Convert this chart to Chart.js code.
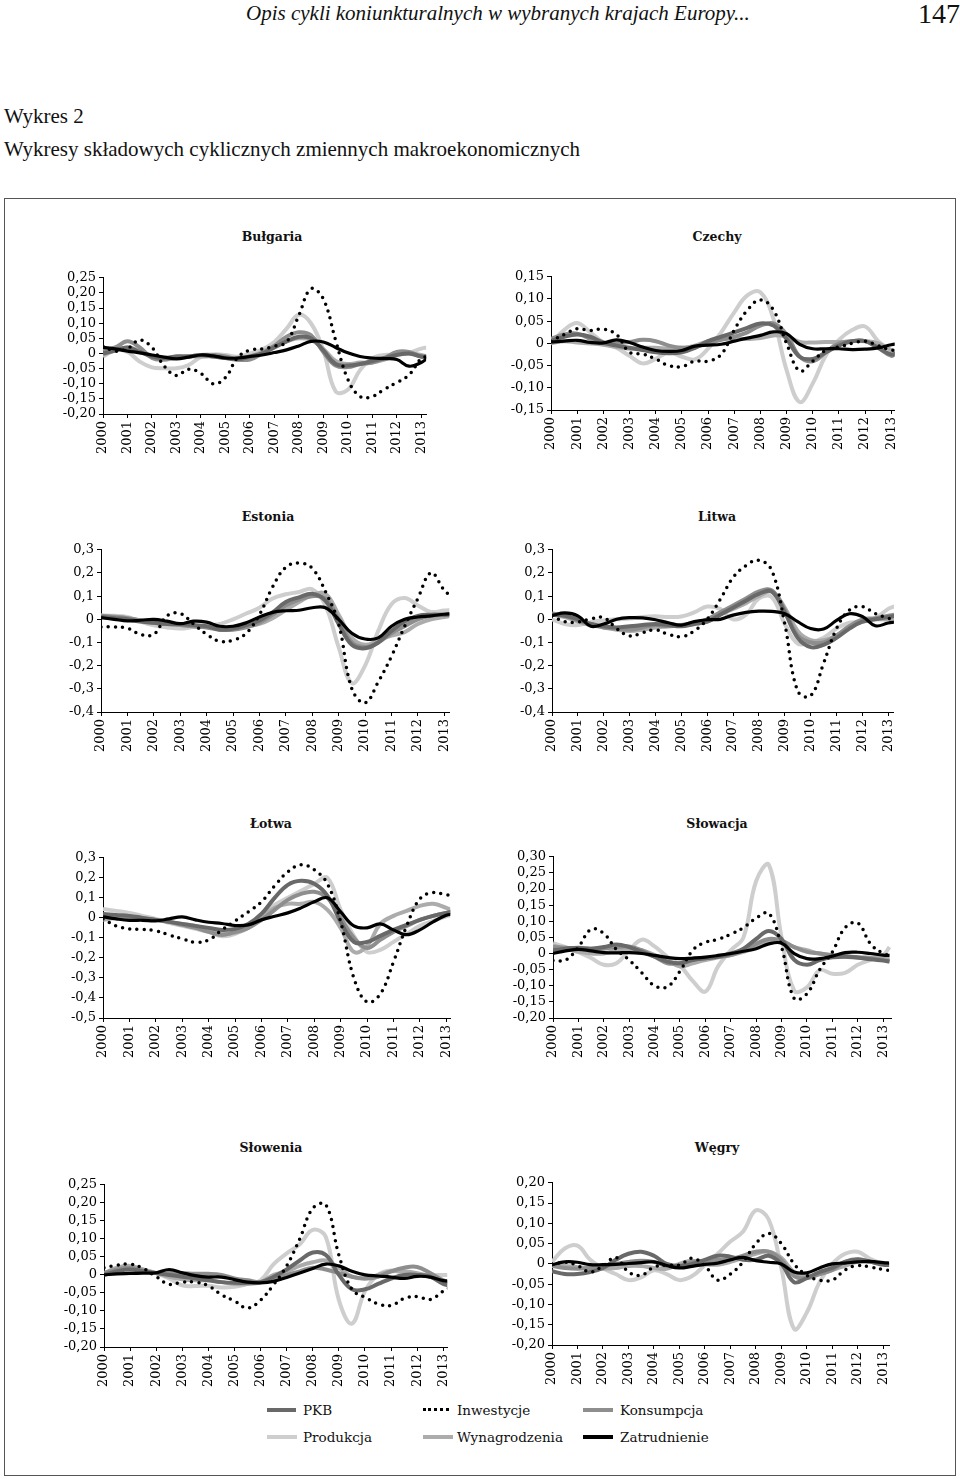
<!DOCTYPE html>
<html>
<head>
<meta charset="utf-8">
<script src="https://cdn.jsdelivr.net/npm/chart.js@4.4.1/dist/chart.umd.min.js"></script>
<style>
  body{margin:0;background:#fff;width:960px;height:1479px;position:relative;overflow:hidden;font-family:"Liberation Serif",serif;color:#111}
  .abs{position:absolute;white-space:nowrap}
  .ttl{font-family:"DejaVu Serif",serif;font-weight:bold;font-size:12.5px;transform:translate(-50%,-50%)}
  .box{position:absolute;left:4px;top:198px;width:950px;height:1276px;border:1px solid #555}
  .leg{font-family:"DejaVu Serif",serif;font-size:13.5px;transform:translateY(-50%)}
  .sw{position:absolute;height:0;border-top-style:solid;border-top-width:4px}
</style>
</head>
<body>
<div class="abs" style="left:246px;top:1px;font-size:21px;font-style:italic">Opis cykli koniunkturalnych w wybranych krajach Europy...</div>
<div class="abs" style="left:918px;top:-2px;font-size:28px">147</div>
<div class="abs" style="left:4px;top:104px;font-size:21px">Wykres 2</div>
<div class="abs" style="left:4px;top:137px;font-size:21px">Wykresy składowych cyklicznych zmiennych makroekonomicznych</div>
<div class="box"></div>
<div id="charts"></div>
<div id="legend"></div>
<script>
// === DANE ===
const periods = [2000, 2000.5, 2001, 2001.5, 2002, 2002.5, 2003, 2003.5, 2004, 2004.5, 2005, 2005.5, 2006, 2006.5,
                 2007, 2007.5, 2008, 2008.5, 2009, 2009.5, 2010, 2010.5, 2011, 2011.5, 2012, 2012.5, 2013, 2013.25];
const yearTicks = [2000, 2001, 2002, 2003, 2004, 2005, 2006, 2007, 2008, 2009, 2010, 2011, 2012, 2013];
const seriesNames = ['PKB', 'Inwestycje', 'Konsumpcja', 'Produkcja', 'Wynagrodzenia', 'Zatrudnienie'];
const countries = ['Bułgaria', 'Czechy', 'Estonia', 'Litwa', 'Łotwa', 'Słowacja', 'Słowenia', 'Węgry'];

// Bułgaria
const bgPkb  = [0.000, 0.010, 0.020, 0.005, -0.010, -0.015, -0.010, -0.010, -0.005, -0.010, -0.015, -0.020, -0.010, 0.000, 0.020, 0.040, 0.055, 0.050, 0.010, -0.035, -0.040, -0.035, -0.025, -0.015, -0.005, 0.000, -0.010, -0.010];
const bgInw  = [0.024, 0.008, 0.016, 0.044, 0.020, -0.042, -0.073, -0.052, -0.066, -0.100, -0.080, -0.013, 0.011, 0.015, 0.024, 0.038, 0.126, 0.214, 0.180, 0.044, -0.085, -0.142, -0.142, -0.118, -0.096, -0.071, -0.016, -0.010];
const bgKons = [0.010, 0.020, 0.040, 0.020, -0.015, -0.020, -0.010, -0.010, -0.005, -0.005, -0.010, -0.020, -0.020, 0.000, 0.025, 0.055, 0.070, 0.060, 0.005, -0.040, -0.045, -0.035, -0.030, -0.015, 0.005, 0.005, -0.010, -0.012];
const bgProd = [-0.010, 0.011, 0.005, -0.027, -0.046, -0.049, -0.049, -0.038, -0.011, -0.003, -0.005, -0.011, 0.000, 0.013, 0.038, 0.082, 0.128, 0.099, 0.011, -0.125, -0.120, -0.055, -0.016, -0.005, -0.005, 0.002, 0.016, 0.020];
const bgWyn  = [-0.005, 0.010, 0.020, 0.010, -0.010, -0.020, -0.015, -0.010, -0.010, -0.010, -0.015, -0.015, -0.010, 0.005, 0.025, 0.040, 0.050, 0.045, 0.015, -0.025, -0.035, -0.030, -0.030, -0.020, -0.005, 0.000, -0.005, -0.010];
const bgZatr = [0.020, 0.015, 0.008, 0.002, -0.005, -0.012, -0.018, -0.012, -0.005, -0.008, -0.015, -0.015, -0.010, -0.005, 0.003, 0.012, 0.025, 0.040, 0.038, 0.020, 0.002, -0.010, -0.015, -0.017, -0.020, -0.042, -0.030, -0.015];
// Czechy
const czPkb  = [0.005, 0.015, 0.020, 0.015, 0.002, -0.005, -0.010, -0.015, -0.020, -0.022, -0.020, -0.010, 0.005, 0.015, 0.025, 0.035, 0.045, 0.040, 0.010, -0.030, -0.035, -0.020, -0.005, 0.005, 0.005, -0.010, -0.025, -0.020];
const czInw  = [0.005, 0.020, 0.033, 0.029, 0.032, 0.020, -0.020, -0.024, -0.035, -0.050, -0.052, -0.040, -0.040, -0.025, 0.030, 0.075, 0.098, 0.075, 0.000, -0.062, -0.040, -0.015, -0.008, 0.000, 0.005, -0.005, -0.015, -0.015];
const czKons = [0.010, 0.020, 0.022, 0.010, 0.000, 0.000, 0.003, 0.008, 0.005, -0.005, -0.010, -0.008, 0.000, 0.008, 0.015, 0.025, 0.040, 0.045, 0.020, -0.030, -0.040, -0.020, 0.000, 0.005, 0.005, -0.010, -0.028, -0.020];
const czProd = [0.000, 0.030, 0.046, 0.025, 0.002, -0.010, -0.028, -0.045, -0.035, -0.020, -0.030, -0.036, -0.012, 0.025, 0.070, 0.108, 0.115, 0.055, -0.060, -0.132, -0.090, -0.027, 0.008, 0.030, 0.038, 0.005, -0.016, -0.018];
const czWyn  = [0.000, 0.005, 0.002, 0.000, -0.003, -0.008, -0.012, -0.010, -0.010, -0.012, -0.010, -0.005, 0.005, 0.010, 0.010, 0.010, 0.012, 0.018, 0.015, 0.003, 0.002, 0.003, 0.003, 0.005, 0.005, 0.000, -0.015, -0.018];
const czZatr = [0.003, 0.005, 0.007, 0.002, 0.001, 0.008, 0.002, -0.008, -0.016, -0.018, -0.016, -0.006, -0.004, -0.002, 0.005, 0.012, 0.018, 0.026, 0.022, -0.002, -0.012, -0.012, -0.012, -0.014, -0.013, -0.010, -0.003, -0.001];
// Estonia
const eePkb  = [0.010, 0.005, 0.000, -0.010, -0.015, -0.020, -0.020, -0.025, -0.030, -0.045, -0.040, -0.025, -0.005, 0.030, 0.075, 0.095, 0.110, 0.080, -0.020, -0.110, -0.125, -0.100, -0.050, -0.010, 0.015, 0.020, 0.020, 0.022];
const eeInw  = [-0.033, -0.033, -0.038, -0.065, -0.065, 0.015, 0.025, -0.020, -0.065, -0.095, -0.090, -0.060, 0.020, 0.140, 0.225, 0.243, 0.220, 0.120, -0.020, -0.300, -0.360, -0.270, -0.160, -0.030, 0.090, 0.200, 0.125, 0.100];
const eeKons = [0.015, 0.010, 0.005, -0.005, -0.015, -0.020, -0.025, -0.030, -0.035, -0.045, -0.045, -0.035, -0.015, 0.020, 0.060, 0.085, 0.100, 0.090, 0.000, -0.100, -0.120, -0.100, -0.060, -0.030, 0.000, 0.015, 0.020, 0.020];
const eeProd = [0.017, 0.015, 0.010, -0.010, -0.026, -0.035, -0.040, -0.033, -0.027, -0.020, 0.000, 0.025, 0.050, 0.090, 0.108, 0.118, 0.130, 0.060, -0.120, -0.275, -0.200, -0.050, 0.065, 0.092, 0.060, 0.032, 0.038, 0.040];
const eeWyn  = [0.015, 0.012, 0.005, -0.005, -0.012, -0.020, -0.025, -0.030, -0.033, -0.040, -0.035, -0.030, -0.020, 0.005, 0.040, 0.075, 0.105, 0.110, 0.020, -0.080, -0.110, -0.090, -0.070, -0.055, -0.020, 0.000, 0.010, 0.015];
const eeZatr = [0.007, 0.000, -0.007, -0.004, 0.000, -0.008, -0.019, -0.008, -0.012, -0.030, -0.030, -0.015, 0.010, 0.030, 0.037, 0.039, 0.050, 0.050, 0.000, -0.060, -0.085, -0.080, -0.030, 0.000, 0.010, 0.015, 0.022, 0.024];
// Litwa
const ltPkb  = [0.020, 0.015, 0.000, -0.020, -0.030, -0.035, -0.030, -0.025, -0.020, -0.025, -0.030, -0.020, -0.010, 0.020, 0.050, 0.080, 0.110, 0.120, 0.030, -0.080, -0.120, -0.110, -0.080, -0.040, -0.010, 0.000, 0.010, 0.015];
const ltInw  = [0.015, -0.010, -0.012, 0.002, 0.007, -0.040, -0.072, -0.058, -0.045, -0.065, -0.075, -0.050, 0.000, 0.085, 0.180, 0.232, 0.255, 0.210, -0.020, -0.310, -0.330, -0.190, -0.040, 0.040, 0.055, 0.025, 0.005, 0.000];
const ltKons = [0.025, 0.015, -0.005, -0.020, -0.035, -0.040, -0.045, -0.035, -0.025, -0.030, -0.025, -0.015, 0.000, 0.030, 0.060, 0.090, 0.120, 0.125, 0.040, -0.070, -0.100, -0.100, -0.070, -0.030, 0.000, 0.005, 0.015, 0.020];
const ltProd = [0.000, -0.020, -0.025, -0.012, -0.005, 0.000, 0.003, 0.010, 0.013, 0.010, 0.012, 0.030, 0.055, 0.045, 0.000, 0.020, 0.090, 0.095, -0.020, -0.105, -0.100, -0.080, -0.040, -0.015, -0.012, 0.005, 0.045, 0.056];
const ltWyn  = [0.020, 0.010, -0.010, -0.025, -0.035, -0.045, -0.050, -0.045, -0.035, -0.030, -0.025, -0.020, -0.010, 0.020, 0.045, 0.070, 0.100, 0.120, 0.050, -0.050, -0.090, -0.090, -0.070, -0.030, -0.010, 0.000, 0.000, 0.005];
const ltZatr = [0.017, 0.028, 0.015, -0.030, -0.020, 0.000, 0.007, 0.006, -0.002, -0.015, -0.025, -0.010, -0.002, 0.000, 0.018, 0.030, 0.035, 0.034, 0.024, -0.010, -0.040, -0.042, -0.005, 0.024, 0.012, -0.028, -0.016, -0.012];
// Łotwa
const lvPkb  = [0.020, 0.015, 0.010, 0.000, -0.010, -0.020, -0.030, -0.040, -0.050, -0.060, -0.055, -0.030, 0.020, 0.100, 0.165, 0.185, 0.170, 0.110, -0.020, -0.120, -0.120, -0.090, -0.060, -0.035, -0.010, 0.010, 0.025, 0.030];
const lvInw  = [-0.005, -0.040, -0.055, -0.058, -0.065, -0.085, -0.105, -0.122, -0.110, -0.060, -0.015, 0.030, 0.080, 0.160, 0.230, 0.265, 0.240, 0.170, -0.020, -0.300, -0.420, -0.380, -0.220, -0.040, 0.095, 0.126, 0.115, 0.110];
const lvKons = [0.010, 0.005, 0.000, -0.005, -0.010, -0.020, -0.035, -0.050, -0.070, -0.085, -0.070, -0.050, -0.010, 0.040, 0.090, 0.120, 0.130, 0.100, 0.000, -0.100, -0.150, -0.110, -0.070, -0.040, -0.010, 0.010, 0.025, 0.030];
const lvProd = [0.045, 0.035, 0.025, 0.010, -0.005, -0.025, -0.040, -0.055, -0.070, -0.092, -0.080, -0.040, 0.020, 0.065, 0.100, 0.135, 0.170, 0.200, 0.040, -0.090, -0.170, -0.160, -0.120, -0.080, -0.040, -0.015, 0.008, 0.015];
const lvWyn  = [-0.010, 0.000, 0.005, 0.000, -0.010, -0.020, -0.030, -0.040, -0.060, -0.080, -0.075, -0.050, 0.000, 0.050, 0.070, 0.070, 0.080, 0.040, -0.050, -0.170, -0.140, -0.030, 0.010, 0.035, 0.060, 0.070, 0.050, 0.035];
const lvZatr = [0.005, -0.005, -0.012, -0.012, -0.015, -0.005, 0.005, -0.010, -0.022, -0.028, -0.038, -0.035, -0.010, 0.008, 0.025, 0.050, 0.080, 0.100, 0.030, -0.040, -0.050, -0.030, -0.060, -0.084, -0.060, -0.020, 0.013, 0.018];
// Słowacja
const skPkb  = [0.010, 0.015, 0.018, 0.015, 0.020, 0.028, 0.020, 0.005, -0.010, -0.025, -0.030, -0.020, -0.015, -0.010, 0.000, 0.015, 0.045, 0.070, 0.045, -0.020, -0.035, -0.020, -0.012, -0.010, -0.012, -0.018, -0.022, -0.025];
const skInw  = [-0.022, -0.020, 0.020, 0.075, 0.062, 0.012, -0.020, -0.060, -0.100, -0.103, -0.055, 0.010, 0.035, 0.044, 0.060, 0.080, 0.110, 0.125, 0.020, -0.140, -0.125, -0.050, 0.005, 0.080, 0.095, 0.030, 0.000, -0.005];
const skKons = [0.020, 0.018, 0.015, 0.015, 0.015, 0.020, 0.022, 0.010, -0.010, -0.030, -0.030, -0.020, -0.015, -0.010, -0.005, 0.010, 0.030, 0.045, 0.040, 0.020, 0.005, 0.000, -0.005, -0.008, -0.012, -0.015, -0.020, -0.022];
const skProd = [0.032, 0.020, 0.004, -0.014, -0.035, -0.030, 0.010, 0.043, 0.022, -0.010, -0.037, -0.085, -0.118, -0.040, 0.010, 0.050, 0.225, 0.275, 0.050, -0.115, -0.105, -0.052, -0.063, -0.060, -0.035, -0.020, -0.005, 0.020];
const skWyn  = [0.025, 0.015, 0.005, 0.000, 0.000, 0.010, 0.012, 0.010, -0.005, -0.020, -0.040, -0.030, -0.020, -0.012, -0.005, 0.005, 0.020, 0.040, 0.035, 0.020, 0.010, 0.000, -0.005, -0.010, -0.012, -0.012, -0.010, -0.010];
const skZatr = [0.000, 0.008, 0.013, 0.008, 0.003, 0.002, 0.003, 0.000, -0.006, -0.012, -0.016, -0.014, -0.011, -0.006, 0.000, 0.007, 0.015, 0.030, 0.032, 0.000, -0.016, -0.016, -0.008, 0.003, 0.004, 0.000, -0.005, -0.006];
// Słowenia
const siPkb  = [0.000, 0.010, 0.015, 0.010, 0.005, 0.000, -0.005, -0.010, -0.015, -0.020, -0.022, -0.022, -0.020, -0.005, 0.015, 0.040, 0.062, 0.055, 0.000, -0.040, -0.040, -0.025, -0.010, 0.000, 0.000, -0.005, -0.025, -0.030];
const siInw  = [0.020, 0.027, 0.030, 0.018, -0.005, -0.026, -0.020, -0.020, -0.030, -0.055, -0.072, -0.092, -0.070, -0.027, 0.025, 0.100, 0.185, 0.195, 0.055, -0.040, -0.062, -0.080, -0.085, -0.065, -0.060, -0.068, -0.045, -0.035];
const siKons = [0.005, 0.015, 0.020, 0.012, 0.005, 0.005, 0.005, 0.003, 0.003, 0.000, -0.010, -0.015, -0.020, -0.010, 0.000, 0.010, 0.020, 0.015, 0.005, -0.005, -0.010, -0.005, 0.010, 0.020, 0.022, 0.005, -0.015, -0.020];
const siProd = [0.003, 0.015, 0.022, 0.015, 0.005, -0.010, -0.029, -0.031, -0.030, -0.035, -0.033, -0.025, -0.015, 0.030, 0.060, 0.085, 0.125, 0.105, -0.070, -0.135, -0.045, 0.000, 0.012, 0.005, 0.002, -0.001, 0.000, 0.000];
const siWyn  = [0.005, 0.020, 0.025, 0.015, 0.005, -0.005, -0.012, -0.015, -0.015, -0.020, -0.025, -0.025, -0.020, 0.000, 0.010, 0.025, 0.035, 0.040, 0.020, -0.005, -0.010, 0.000, 0.010, 0.010, 0.005, -0.005, -0.020, -0.025];
const siZatr = [0.000, 0.003, 0.004, 0.005, 0.006, 0.015, 0.006, -0.002, -0.006, -0.006, -0.013, -0.020, -0.022, -0.018, -0.007, 0.005, 0.018, 0.030, 0.025, 0.010, 0.000, -0.003, -0.006, -0.010, -0.004, -0.006, -0.016, -0.018];
// Węgry
const huPkb  = [-0.018, -0.025, -0.025, -0.020, -0.010, 0.010, 0.025, 0.030, 0.020, 0.000, -0.005, 0.000, 0.010, 0.020, 0.018, 0.010, 0.010, 0.020, 0.000, -0.045, -0.035, -0.020, -0.010, 0.005, 0.010, 0.005, -0.002, -0.003];
const huInw  = [-0.002, 0.004, -0.004, -0.020, -0.005, 0.016, -0.020, -0.028, -0.008, -0.003, -0.003, 0.014, -0.005, -0.040, -0.025, 0.005, 0.050, 0.075, 0.050, 0.000, -0.028, -0.040, -0.040, -0.015, -0.004, -0.008, -0.014, -0.016];
const huKons = [-0.005, -0.010, -0.012, -0.010, -0.005, 0.000, 0.005, 0.008, 0.005, -0.005, -0.005, 0.005, 0.008, 0.010, 0.012, 0.020, 0.030, 0.030, 0.010, -0.030, -0.035, -0.025, -0.015, 0.005, 0.012, 0.005, 0.000, -0.002];
const huProd = [0.005, 0.038, 0.045, 0.010, -0.011, -0.025, -0.040, -0.033, -0.016, -0.025, -0.040, -0.030, -0.003, 0.025, 0.055, 0.080, 0.132, 0.110, -0.010, -0.160, -0.120, -0.045, 0.000, 0.025, 0.030, 0.012, 0.000, -0.003];
const huWyn  = [-0.005, -0.005, -0.008, -0.010, -0.012, -0.010, -0.005, -0.005, -0.010, -0.012, 0.000, 0.008, 0.000, -0.002, 0.005, 0.015, 0.025, 0.030, 0.015, -0.020, -0.030, -0.025, -0.015, -0.005, 0.005, 0.005, 0.000, -0.002];
const huZatr = [-0.002, 0.005, 0.004, -0.002, -0.002, -0.001, 0.001, 0.003, 0.005, -0.004, -0.010, -0.006, -0.001, 0.002, 0.010, 0.016, 0.008, 0.004, 0.000, -0.020, -0.022, -0.010, 0.000, 0.002, 0.005, 0.006, 0.003, 0.002];

// Etykiety osi Y (od góry)
const bgTicks = [0.25, 0.20, 0.15, 0.10, 0.05, 0, -0.05, -0.10, -0.15, -0.20];
const czTicks = [0.15, 0.10, 0.05, 0, -0.05, -0.10, -0.15];
const eeTicks = [0.3, 0.2, 0.1, 0, -0.1, -0.2, -0.3, -0.4];
const ltTicks = [0.3, 0.2, 0.1, 0, -0.1, -0.2, -0.3, -0.4];
const lvTicks = [0.3, 0.2, 0.1, 0, -0.1, -0.2, -0.3, -0.4, -0.5];
const skTicks = [0.30, 0.25, 0.20, 0.15, 0.10, 0.05, 0, -0.05, -0.10, -0.15, -0.20];
const siTicks = [0.25, 0.20, 0.15, 0.10, 0.05, 0, -0.05, -0.10, -0.15, -0.20];
const huTicks = [0.20, 0.15, 0.10, 0.05, 0, -0.05, -0.10, -0.15, -0.20];

const countrySeries = [
  [bgPkb, bgInw, bgKons, bgProd, bgWyn, bgZatr],
  [czPkb, czInw, czKons, czProd, czWyn, czZatr],
  [eePkb, eeInw, eeKons, eeProd, eeWyn, eeZatr],
  [ltPkb, ltInw, ltKons, ltProd, ltWyn, ltZatr],
  [lvPkb, lvInw, lvKons, lvProd, lvWyn, lvZatr],
  [skPkb, skInw, skKons, skProd, skWyn, skZatr],
  [siPkb, siInw, siKons, siProd, siWyn, siZatr],
  [huPkb, huInw, huKons, huProd, huWyn, huZatr]
];
const countryTicks = [bgTicks, czTicks, eeTicks, ltTicks, lvTicks, skTicks, siTicks, huTicks];

// === WYGLĄD ===
// L/R/T/B = krawędzie obszaru wykresu (px strony), xMax = koniec osi X
const layout = [
  {L:103, R:430, T:277, B:414, xMax:2013.2,  tx:272, ty:236},
  {L:551, R:900, T:276, B:410, xMax:2013.13, tx:717, ty:236},
  {L:101, R:453, T:549, B:712, xMax:2013.19, tx:268, ty:516},
  {L:552, R:897, T:549, B:712, xMax:2013.22, tx:717, ty:516},
  {L:103, R:455, T:857, B:1018, xMax:2013.15, tx:271, ty:823},
  {L:553, R:892, T:856, B:1018, xMax:2013.33, tx:717, ty:823},
  {L:104, R:452, T:1184, B:1347, xMax:2013.15, tx:271, ty:1147},
  {L:552, R:892, T:1182, B:1345, xMax:2013.23, tx:717, ty:1147}
];
const styles = [
  {color:'#696969', width:4,   order:2},
  {color:'#000000', width:3.5, order:1, dash:[0,7.2]},
  {color:'#8e8e8e', width:4,   order:3},
  {color:'#cecece', width:4,   order:5},
  {color:'#acacac', width:4,   order:4},
  {color:'#000000', width:3.2, order:0}
];
const FONT = '"DejaVu Serif", serif';
const Y_W = 90, X_H = 50, PAD_T = 10, PAD_R = 10;

const fmt = (v, dec) => Math.abs(v) < 1e-9 ? '0' : v.toFixed(dec).replace('.', ',');

function makeChart(i){
  const box = layout[i], ticks = countryTicks[i];
  const step = Math.abs(ticks[0] - ticks[1]);
  const dec = step < 0.09 ? 2 : 1;

  const t = document.createElement('div');
  t.className = 'abs ttl';
  t.style.left = box.tx + 'px'; t.style.top = box.ty + 'px';
  t.textContent = countries[i];
  document.body.appendChild(t);

  const wrap = document.createElement('div');
  wrap.style.cssText = `position:absolute;left:${box.L - Y_W}px;top:${box.T - PAD_T}px;` +
    `width:${box.R - box.L + Y_W + PAD_R}px;height:${box.B - box.T + PAD_T + X_H}px`;
  const cv = document.createElement('canvas');
  wrap.appendChild(cv);
  document.getElementById('charts').appendChild(wrap);

  const ds = seriesNames.map((name, k) => ({
    label: name,
    data: periods.map((x, j) => ({x, y: countrySeries[i][k][j]})),
    borderColor: styles[k].color,
    borderWidth: styles[k].width,
    borderDash: styles[k].dash || [],
    borderCapStyle: styles[k].dash ? 'round' : 'butt',
    borderJoinStyle: 'round',
    order: styles[k].order,
    pointRadius: 0,
    tension: 0.4,
    fill: false
  }));

  const axisCommon = {
    border:{display:true, color:'#000', width:1},
    grid:{display:true, drawOnChartArea:false, drawTicks:true, tickLength:4, color:'#000'}
  };

  new Chart(cv, {
    type:'line',
    data:{datasets: ds},
    options:{
      animation:false, responsive:true, maintainAspectRatio:false,
      layout:{padding:{top:PAD_T, right:PAD_R, left:0, bottom:0}},
      plugins:{legend:{display:false}, tooltip:{enabled:false}},
      scales:{
        x:{
          ...axisCommon, type:'linear', min:2000, max:box.xMax,
          afterFit: s => { s.height = X_H; },
          afterBuildTicks: s => { s.ticks = yearTicks.map(v => ({value:v})); },
          ticks:{autoSkip:false, minRotation:90, maxRotation:90, color:'#000', padding:3,
                 font:{family:FONT, size:13}, callback: v => String(v)}
        },
        y:{
          ...axisCommon, min: ticks[ticks.length - 1], max: ticks[0],
          afterFit: s => { s.width = Y_W; },
          afterBuildTicks: s => { s.ticks = ticks.map(v => ({value:v})); },
          ticks:{autoSkip:false, color:'#000', padding:3, font:{family:FONT, size:13}, callback: v => fmt(v, dec)}
        }
      }
    }
  });
}

countries.forEach((c, i) => makeChart(i));

// Legenda
const legendPos = [
  {x:267, y:1410, w:29, tx:303},
  {x:423, y:1410, w:26, tx:457},
  {x:583, y:1410, w:30, tx:620},
  {x:267, y:1437, w:30, tx:303},
  {x:423, y:1437, w:30, tx:457},
  {x:583, y:1437, w:30, tx:620}
];
seriesNames.forEach((name, k) => {
  const p = legendPos[k];
  const sw = document.createElement('div');
  sw.className = 'sw';
  sw.style.left = p.x + 'px'; sw.style.top = (p.y - 2) + 'px'; sw.style.width = p.w + 'px';
  sw.style.borderTopColor = styles[k].color;
  if (styles[k].dash){ sw.style.borderTopStyle = 'dotted'; sw.style.borderTopWidth = '3.5px'; }
  document.body.appendChild(sw);
  const tx = document.createElement('div');
  tx.className = 'abs leg';
  tx.style.left = p.tx + 'px'; tx.style.top = p.y + 'px';
  tx.textContent = name;
  document.body.appendChild(tx);
});
</script>
</body>
</html>
